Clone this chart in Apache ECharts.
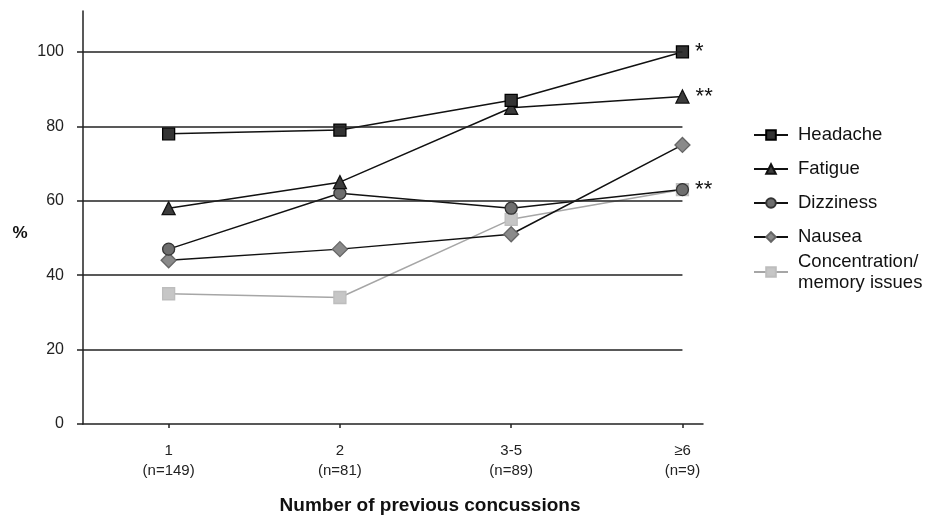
<!DOCTYPE html>
<html><head><meta charset="utf-8">
<script src="https://cdn.jsdelivr.net/npm/echarts@6/dist/echarts.min.js"></script>
<style>html,body{margin:0;padding:0;background:#fff}#c{width:927px;height:519px}</style>
</head><body><div id="c"></div>
<script>
// ---- data ----
const categories = ['1\n(n=149)', '2\n(n=81)', '3-5\n(n=89)', '≥6\n(n=9)'];
const seriesNames = ['Headache', 'Fatigue', 'Dizziness', 'Nausea', 'Concentration/memory issues'];
const headache = [78, 79, 87, 100];
const fatigue = [58, 65, 85, 88];
const dizziness = [47, 62, 58, 63];
const nausea = [44, 47, 51, 75];
const concentration = [35, 34, 55, 63];
const notes = ['*', '**', '**', '', ''];
const yTicks = [0, 20, 40, 60, 80, 100];
const xTitle = 'Number of previous concussions';
const yTitle = '%';

// ---- styles ----
const FONT = "'Liberation Sans', Arial, sans-serif";
const styles = [
  { symbol: 'rect', size: 12, fill: '#333', border: '#000', line: '#111' },
  { symbol: 'triangle', size: 13, fill: '#3c3c3c', border: '#111', line: '#111' },
  { symbol: 'circle', size: 12, fill: '#6e6e6e', border: '#333', line: '#111' },
  { symbol: 'diamond', size: 15, fill: '#8a8a8a', border: '#666', line: '#111' },
  { symbol: 'rect', size: 12, fill: '#c6c6c6', border: '#bdbdbd', line: '#a6a6a6' }
];
const values = [headache, fatigue, dizziness, nausea, concentration];
const catPos = categories.map((c, i) => i + 0.5);
const lastPos = catPos[catPos.length - 1];

const series = [];
// gridlines (drawn first, beneath everything)
series.push({
  type: 'line', name: '', data: [], silent: true,
  markLine: {
    silent: true, symbol: 'none', animation: false,
    label: { show: false },
    lineStyle: { color: '#222', width: 1.5, type: 'solid' },
    data: yTicks.filter(t => t > 0).map(t => [{ coord: [0, t] }, { coord: [lastPos, t] }])
  }
});
for (let k = values.length - 1; k >= 0; k--) {
  const s = styles[k];
  const vals = values[k];
  series.push({
    type: 'line', name: seriesNames[k],
    symbol: s.symbol, symbolSize: s.size,
    showAllSymbol: true,
    itemStyle: { color: s.fill, borderColor: s.border, borderWidth: 1.3 },
    lineStyle: { color: s.line, width: 1.5 },
    emphasis: { disabled: true },
    animation: false,
    data: vals.map((v, i) => {
      const item = { value: [catPos[i], v] };
      if (i === vals.length - 1 && notes[k]) {
        item.label = {
          show: true, position: 'right', distance: 6,
          formatter: notes[k], fontSize: 22, color: '#111', fontFamily: FONT
        };
      }
      return item;
    })
  });
}

const chart = echarts.init(document.getElementById('c'), null, { renderer: 'canvas' });
chart.setOption({
  backgroundColor: '#fff',
  animation: false,
  grid: { left: 83, right: 224, top: 11, bottom: 95 },
  xAxis: {
    type: 'value', min: 0, max: categories.length - 0.38,
    axisLine: { show: true, onZero: false, lineStyle: { color: '#222', width: 1.5 } },
    axisTick: { show: true, customValues: catPos, length: 4, lineStyle: { color: '#222', width: 1.5 } },
    axisLabel: {
      customValues: catPos,
      formatter: v => categories[Math.round(v - 0.5)],
      fontSize: 15, lineHeight: 20, color: '#222', margin: 17, fontFamily: FONT
    },
    splitLine: { show: false }
  },
  yAxis: {
    type: 'value', min: 0, max: 111,
    axisLine: { show: true, lineStyle: { color: '#222', width: 1.5 } },
    axisTick: { show: true, customValues: yTicks, length: 6, lineStyle: { color: '#222', width: 1.5 } },
    axisLabel: { customValues: yTicks, fontSize: 16, color: '#222', margin: 19, fontFamily: FONT },
    splitLine: { show: false }
  },
  legend: [
    {
      data: seriesNames.slice(0, 4), orient: 'vertical', left: 753, top: 124, padding: 0,
      itemWidth: 34, itemHeight: 12, itemGap: 12, selectedMode: false,
      textStyle: { fontSize: 18.5, lineHeight: 22, color: '#111', fontFamily: FONT, padding: [0, 0, 0, 5] }
    },
    {
      data: seriesNames.slice(4), orient: 'vertical', left: 753, top: 251, padding: 0,
      itemWidth: 34, itemHeight: 12, selectedMode: false,
      formatter: n => n.replace('/', '/\n'),
      textStyle: { fontSize: 18.5, lineHeight: 21, color: '#111', fontFamily: FONT, padding: [0, 0, 0, 5] }
    }
  ],
  graphic: [
    { type: 'text', x: 430, y: 506, silent: true,
      style: { text: xTitle, font: 'bold 19px ' + FONT, fill: '#111', align: 'center', verticalAlign: 'middle' } },
    { type: 'text', x: 20, y: 233, silent: true,
      style: { text: yTitle, font: 'bold 17px ' + FONT, fill: '#111', align: 'center', verticalAlign: 'middle' } }
  ],
  series: series
});
</script>
</body></html>
